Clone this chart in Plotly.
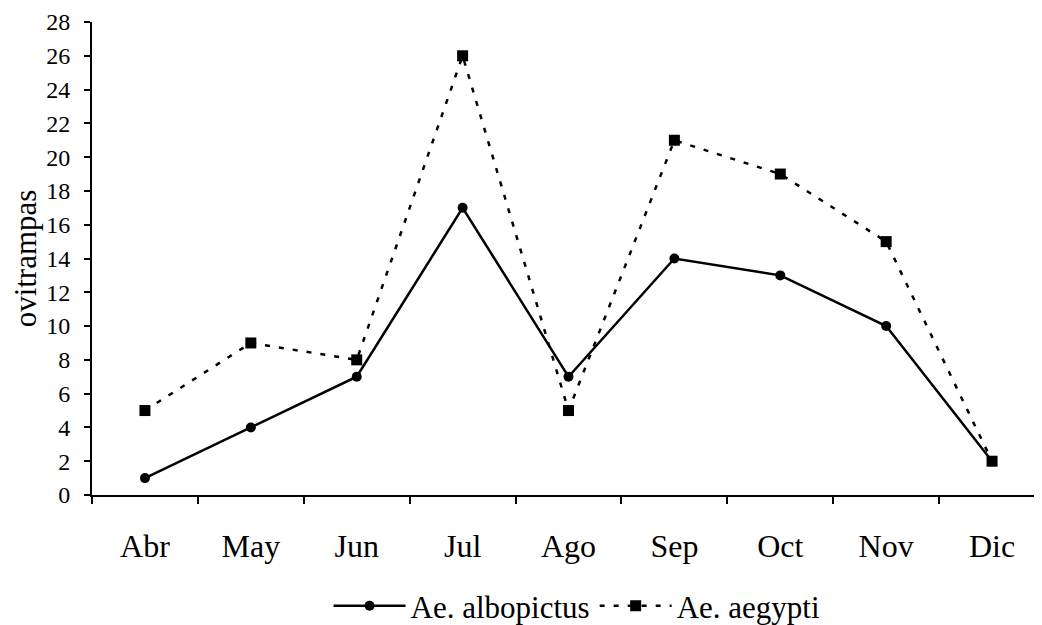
import plotly.graph_objects as go

months = ["Abr", "May", "Jun", "Jul", "Ago", "Sep", "Oct", "Nov", "Dic"]
albopictus = [1, 4, 7, 17, 7, 14, 13, 10, 2]
aegypti = [5, 9, 8, 26, 5, 21, 19, 15, 2]
y_ticks = list(range(0, 29, 2))

fig = go.Figure()
fig.add_trace(go.Scatter(
    x=months, y=albopictus, name="Ae. albopictus", mode="lines+markers",
    line=dict(color="black", width=2.5),
    marker=dict(symbol="circle", size=10, color="black"),
))
fig.add_trace(go.Scatter(
    x=months, y=aegypti, name="Ae. aegypti", mode="lines+markers",
    line=dict(color="black", width=2.5, dash="5px,9px"),
    marker=dict(symbol="square", size=11, color="black",
                line=dict(color="black", width=0)),
))

font_family = "Liberation Serif"
fig.update_layout(
    width=1040, height=625,
    paper_bgcolor="white", plot_bgcolor="white",
    margin=dict(l=84, r=3, t=14, b=138, autoexpand=False),
    font=dict(family=font_family, color="black", size=30),
    showlegend=True,
    legend=dict(orientation="h", x=0.509, xanchor="center", y=-0.235, yanchor="middle",
                font=dict(size=31, family=font_family), itemwidth=72,
                tracegroupgap=0),
)
fig.update_xaxes(
    type="category", range=[-0.5, 8.5], automargin=False,
    showline=True, linecolor="black", linewidth=2,
    showgrid=False, zeroline=False,
    ticks="outside", tickson="boundaries", ticklen=7, tickwidth=2, tickcolor="black",
    tickfont=dict(size=32, family=font_family), ticklabelstandoff=22,
)
fig.update_yaxes(
    range=[0, 28], tickvals=y_ticks, automargin=False, ticklabeloverflow="allow",
    showline=True, linecolor="black", linewidth=2,
    showgrid=False, zeroline=False,
    ticks="outside", ticklen=6, tickwidth=2, tickcolor="black",
    tickfont=dict(size=24, family=font_family), ticklabelstandoff=9,
    title=dict(text="ovitrampas", font=dict(size=31, family=font_family), standoff=21),
)

fig.write_html("out.html")
